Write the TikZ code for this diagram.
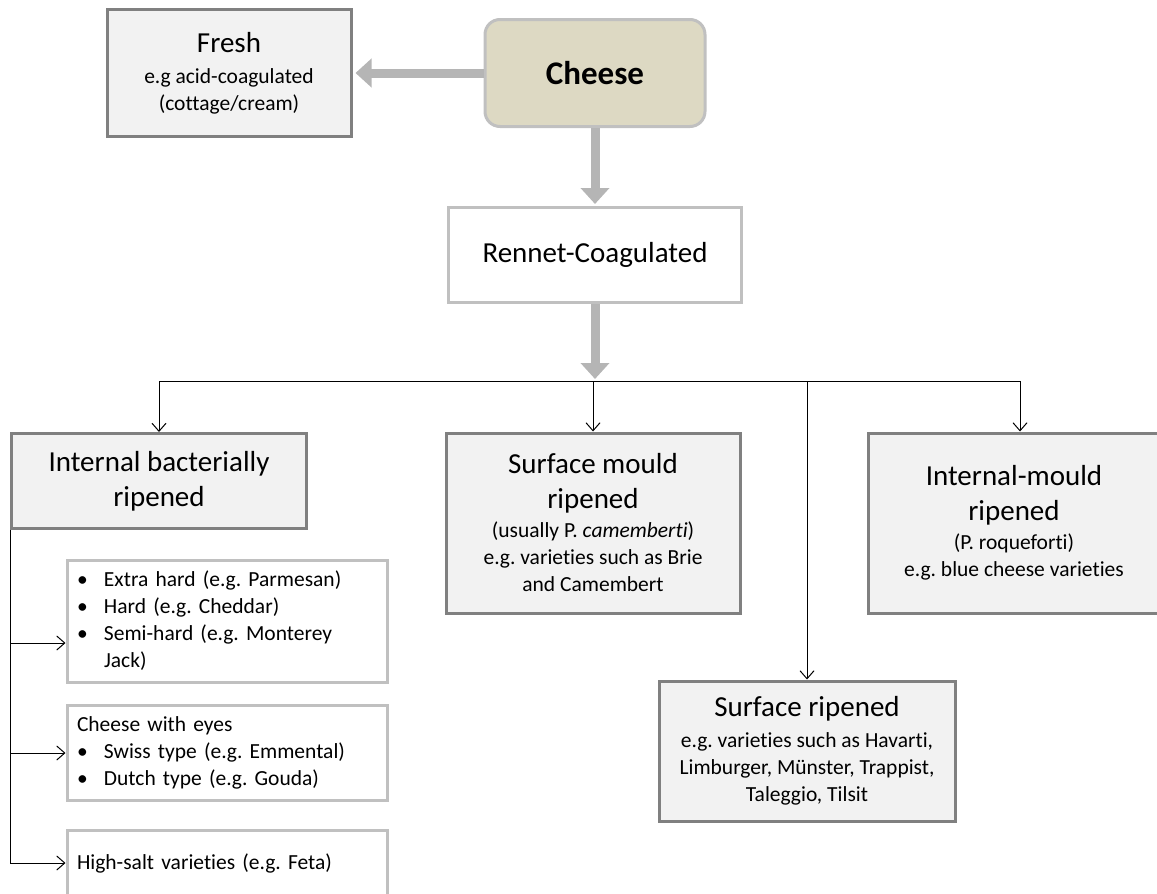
\documentclass[tikz,border=0pt]{standalone}
\usepackage{fontspec}
\setmainfont{Carlito}[Ligatures={NoCommon}]
\usepackage{tikz}
\usetikzlibrary{arrows.meta,positioning,calc}
\definecolor{cheesetan}{HTML}{DDD9C3}
\definecolor{boxgray}{HTML}{F2F2F2}
\definecolor{darkedge}{HTML}{808080}
\definecolor{lightedge}{HTML}{C0C0C0}
\definecolor{arrowgray}{HTML}{B5B5B5}
\newcommand{\headsz}{\fontsize{29}{35}\selectfont}
\newcommand{\bodysz}{\fontsize{21.5}{27}\selectfont}
\newcommand{\itm}{\makebox[27pt][l]{\textbullet}}
\frenchspacing

\begin{document}
\begin{tikzpicture}[x=1pt, y=-1pt,
  every node/.style={align=center, font=\bodysz, line width=3pt, inner sep=0pt},
  darkbox/.style={draw=darkedge, fill=boxgray},
  lightbox/.style={draw=lightedge, fill=white},
  listbox/.style={draw=lightedge, fill=white, align=left, text width=300pt, inner xsep=10pt, minimum width=320pt},
  fatarrow/.style={draw=arrowgray, line width=9pt, -{Triangle[width=28pt,length=16pt]}},
  thinarrow/.style={draw=black, line width=1pt, -{Straight Barb[length=8pt,width=14pt]}}
]
\useasboundingbox (0,0) rectangle (1157,894);

\node[draw=lightedge, fill=cheesetan, rounded corners=15pt, minimum width=220pt, minimum height=107pt,
  font=\fontsize{33}{38}\selectfont\bfseries] (cheese) at (595,73) {Cheese};
\node[darkbox, minimum width=244pt, minimum height=127pt] (fresh) at (229,73)
  {{\headsz Fresh}\\[4pt]e.g acid-coagulated\\(cottage/cream)};
\node[lightbox, minimum width=293pt, minimum height=95pt, font=\headsz] (rennet) at (595,255) {Rennet-Coagulated};
\coordinate (bus) at (595,381);

\node[darkbox, minimum width=295pt, minimum height=95pt, font=\headsz] (ibr) at (159,481)
  {Internal bacterially\\ripened};
\node[darkbox, minimum width=294pt, minimum height=180pt] (smr) at (593,523)
  {{\headsz Surface mould}\\[8pt]{\headsz ripened}\\[2pt](usually P. \textit{camemberti})\\e.g. varieties such as Brie\\and Camembert};
\node[darkbox, minimum width=292pt, minimum height=180pt] (imr) at (1014,523)
  {{\headsz Internal-mould}\\[8pt]{\headsz ripened}\\[2pt](P. roqueforti)\\e.g. blue cheese varieties};
\node[darkbox, minimum width=296pt, minimum height=140pt] (srp) at (807,751)
  {{\headsz Surface ripened}\\[4pt]e.g. varieties such as Havarti,\\Limburger, Münster, Trappist,\\Taleggio, Tilsit};

\node[listbox, minimum height=122pt] (hard) at (227,621)
  {\itm Extra hard (e.g. Parmesan)\\\itm Hard (e.g. Cheddar)\\\itm Semi-hard (e.g. Monterey\\\hspace*{27pt}Jack)};
\node[listbox, minimum height=95pt] (eyes) at (227,753)
  {Cheese with eyes\\\itm Swiss type (e.g. Emmental)\\\itm Dutch type (e.g. Gouda)};
\node[listbox, minimum height=66pt] (salt) at (227,863) {High-salt varieties (e.g. Feta)};
\coordinate (hardin) at ($(hard.west)+(0,22)$);
\coordinate (imrin) at ($(imr.north)+(6,0)$);

\draw[fatarrow, shorten >=3pt] (cheese) -- (fresh);
\draw[fatarrow, shorten >=2pt] (cheese) -- (rennet);
\draw[fatarrow, shorten >=2pt] (rennet) -- (bus);

\draw[line width=1pt] (bus -| ibr.north) -- (bus -| imrin);
\foreach \n in {ibr.north,smr.north,srp.north,imrin} \draw[thinarrow] (bus -| \n) -- (\n);

\draw[line width=1pt] (ibr.south west) -- (ibr.south west |- salt.west);
\draw[thinarrow] (ibr.south west |- hardin) -- (hardin);
\draw[thinarrow] (ibr.south west |- eyes.west) -- (eyes.west);
\draw[thinarrow] (ibr.south west |- salt.west) -- (salt.west);
\end{tikzpicture}
\end{document}
